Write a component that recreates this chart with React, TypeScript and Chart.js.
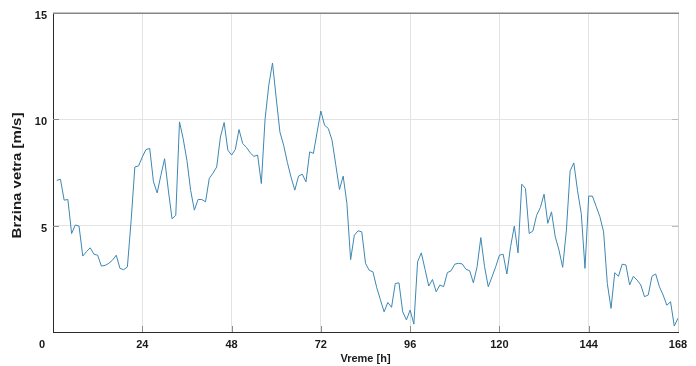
import React, { useEffect, useRef } from 'react';
import { Chart, registerables } from 'chart.js';

Chart.register(...registerables);

// Wind speed [m/s], hourly, hours 1..168
const speed = [
  7.13, 7.18, 6.2, 6.23, 4.63, 5.03, 4.98, 3.57, 3.78, 3.96,
  3.66, 3.61, 3.1, 3.13, 3.23, 3.38, 3.61, 2.99, 2.93, 3.06,
  5.25, 7.76, 7.81, 8.23, 8.58, 8.63, 7.07, 6.54, 7.37, 8.15,
  6.67, 5.32, 5.49, 9.88, 9.08, 8.07, 6.66, 5.73, 6.23, 6.23,
  6.12, 7.22, 7.47, 7.76, 9.17, 9.85, 8.55, 8.32, 8.58, 9.52,
  8.86, 8.68, 8.43, 8.26, 8.32, 6.98, 10.0, 11.6, 12.65, 11.0,
  9.4, 8.78, 7.97, 7.27, 6.67, 7.33, 7.42, 7.06, 8.47, 8.4,
  9.4, 10.39, 9.72, 9.57, 9.02, 7.87, 6.7, 7.33, 6.05, 3.4,
  4.55, 4.76, 4.71, 3.23, 2.9, 2.83, 2.1, 1.52, 0.95, 1.39,
  1.16, 2.28, 2.31, 0.95, 0.57, 1.03, 0.37, 3.3, 3.72, 2.95,
  2.16, 2.47, 1.89, 2.21, 2.13, 2.79, 2.88, 3.19, 3.23, 3.2,
  2.95, 2.88, 2.31, 3.07, 4.44, 3.07, 2.13, 2.59, 3.07, 3.61,
  3.66, 2.73, 4.01, 4.98, 3.72, 6.95, 6.75, 4.63, 4.75, 5.49,
  5.85, 6.48, 5.11, 5.65, 4.48, 3.86, 3.04, 4.79, 7.58, 7.95,
  6.64, 5.57, 2.99, 6.39, 6.39, 5.91, 5.42, 4.71, 2.28, 1.11,
  2.79, 2.62, 3.19, 3.15, 2.21, 2.62, 2.44, 2.21, 1.66, 1.74,
  2.62, 2.73, 2.13, 1.74, 1.26, 1.42, 0.28, 0.65,
];
const firstHour = 1;

const xTicks = [0, 24, 48, 72, 96, 120, 144, 168];
const yTicks = [0, 5, 10, 15];
const xTitle = 'Vreme [h]';
const yTitle = 'Brzina vetra [m/s]';
const originLabel = '0';

const FONT_FAMILY = '"Liberation Sans", Arial, sans-serif';
const TEXT_COLOR = '#1a1a1a';

const framePlugin = {
  id: 'frame',
  afterDraw(chart: any) {
    const { ctx, chartArea: a, scales } = chart;
    const x = scales.x;
    const y = scales.y;
    ctx.save();
    // right border
    ctx.strokeStyle = '#d2d2d2';
    ctx.lineWidth = 1;
    ctx.beginPath();
    ctx.moveTo(Math.round(a.right) + 0.5, a.top);
    ctx.lineTo(Math.round(a.right) + 0.5, a.bottom);
    ctx.stroke();
    // top border
    ctx.strokeStyle = '#858585';
    ctx.lineWidth = 1.5;
    ctx.beginPath();
    ctx.moveTo(a.left, Math.round(a.top) + 0.25);
    ctx.lineTo(a.right + 1, Math.round(a.top) + 0.25);
    ctx.stroke();
    // inward ticks
    ctx.lineWidth = 1;
    ctx.strokeStyle = '#8c8c8c';
    const tl = 6;
    xTicks.forEach((v) => {
      if (v === xTicks[0] || v === xTicks[xTicks.length - 1]) return;
      const px = Math.round(x.getPixelForValue(v)) + 0.5;
      ctx.beginPath();
      ctx.moveTo(px, a.bottom);
      ctx.lineTo(px, a.bottom - tl);
      ctx.stroke();
    });
    yTicks.forEach((v) => {
      if (v === yTicks[0] || v === yTicks[yTicks.length - 1]) return;
      const py = Math.round(y.getPixelForValue(v)) + 0.5;
      ctx.beginPath();
      ctx.moveTo(a.left, py);
      ctx.lineTo(a.left + tl, py);
      ctx.stroke();
      ctx.strokeStyle = '#bdbdbd';
      ctx.beginPath();
      ctx.moveTo(a.right, py);
      ctx.lineTo(a.right - tl, py);
      ctx.stroke();
      ctx.strokeStyle = '#8c8c8c';
    });
    ctx.fillStyle = TEXT_COLOR;
    ctx.textAlign = 'center';
    ctx.textBaseline = 'middle';
    // origin label
    ctx.font = `bold 11px ${FONT_FAMILY}`;
    ctx.fillText(originLabel, a.left - 11, a.bottom + 13);
    // y-axis title (rotated, slightly condensed across its height)
    ctx.save();
    ctx.translate(18, (a.top + a.bottom) / 2 + 3);
    ctx.rotate(-Math.PI / 2);
    ctx.scale(1, 0.8);
    ctx.font = `bold 15px ${FONT_FAMILY}`;
    ctx.fillText(yTitle, 0, 0);
    ctx.restore();
    ctx.restore();
  },
};

export default function App() {
  const canvasRef = useRef<HTMLCanvasElement | null>(null);

  useEffect(() => {
    document.body.style.margin = '0';
    const canvas = canvasRef.current;
    if (!canvas) return;
    const font = { family: FONT_FAMILY, size: 11, weight: 'bold' as const };
    const gridColor = (lo: number, hi: number) => (c: any) => {
      const v = c.tick ? c.tick.value : null;
      return v === lo || v === hi ? 'rgba(0,0,0,0)' : '#e3e3e3';
    };
    const chart = new Chart(canvas, {
      type: 'line',
      data: {
        datasets: [
          {
            data: speed.map((v, i) => ({ x: firstHour + i, y: v })),
            borderColor: '#3d87b2',
            borderWidth: 1,
            pointRadius: 0,
            tension: 0,
            fill: false,
          },
        ],
      },
      options: {
        animation: false,
        responsive: true,
        maintainAspectRatio: false,
        layout: { padding: { top: 13, right: 18, left: 0, bottom: 0 } },
        plugins: {
          legend: { display: false },
          tooltip: { enabled: false },
        },
        scales: {
          x: {
            type: 'linear',
            min: xTicks[0],
            max: xTicks[xTicks.length - 1],
            afterBuildTicks: (s: any) => {
              s.ticks = xTicks.map((v) => ({ value: v }));
            },
            afterFit: (s: any) => {
              s.height = 34;
            },
            grid: { color: gridColor(xTicks[0], xTicks[xTicks.length - 1]), drawTicks: false, lineWidth: 1 },
            border: { display: true, color: '#2b2b2b', width: 1 },
            ticks: {
              font,
              color: TEXT_COLOR,
              padding: 6,
              maxRotation: 0,
              autoSkip: false,
              callback: (v: any) => (v === xTicks[0] ? '' : String(v)),
            },
            title: {
              display: true,
              text: xTitle,
              font,
              color: TEXT_COLOR,
              padding: { top: 0, bottom: 0 },
            },
          },
          y: {
            type: 'linear',
            min: yTicks[0],
            max: yTicks[yTicks.length - 1],
            afterBuildTicks: (s: any) => {
              s.ticks = yTicks.map((v) => ({ value: v }));
            },
            afterFit: (s: any) => {
              s.width = 53;
            },
            grid: { color: gridColor(yTicks[0], yTicks[yTicks.length - 1]), drawTicks: false, lineWidth: 1 },
            border: { display: true, color: '#2b2b2b', width: 1 },
            ticks: {
              font,
              color: TEXT_COLOR,
              padding: 6,
              labelOffset: 3,
              callback: (v: any) => (v === yTicks[0] ? '' : String(v)),
            },
            title: { display: false },
          },
        },
      },
      plugins: [framePlugin],
    });
    return () => chart.destroy();
  }, []);

  return (
    <div style={{ position: 'absolute', left: 0, top: 0, width: 696, height: 366, background: '#fff' }}>
      <canvas ref={canvasRef} />
    </div>
  );
}
